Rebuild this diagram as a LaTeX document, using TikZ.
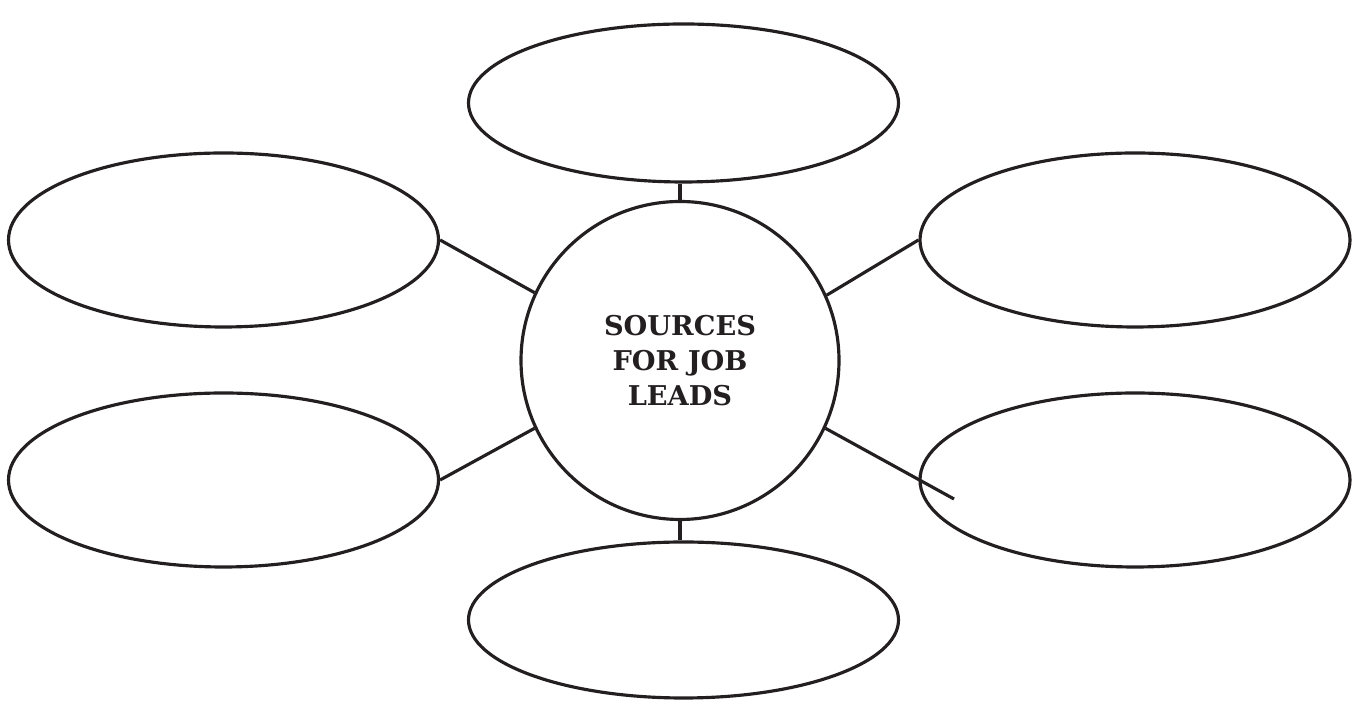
\documentclass[tikz,border=0pt]{standalone}
\usepackage{fontspec}
\newfontfamily\hubfont{DejaVu Serif}
\usetikzlibrary{shapes.geometric}
\usetikzlibrary{positioning}
\definecolor{ink}{HTML}{231F20}

\begin{document}
\begin{tikzpicture}[
    bubble/.style={draw=ink, ellipse, line width=1.8pt, inner sep=0pt, minimum width=8.6cm},
    hub/.style={draw=ink, circle, line width=1.8pt, inner sep=0pt, minimum size=6.36cm,
        align=center, text=ink, font=\hubfont\bfseries\fontsize{15.5}{20}\selectfont},
    link/.style={draw=ink, line width=1.8pt}
]
    \useasboundingbox (0,0) rectangle (27.08,14.24);
    \node[hub] (src) at (13.6,7.03) {SOURCES\\FOR JOB\\LEADS};
    \node[bubble, minimum height=3.16cm] (top) at (13.67,12.18) {};
    \node[bubble, minimum height=3.12cm] (bot) at (13.67,1.84) {};
    \node[bubble, minimum height=3.48cm] (lt) at (4.47,9.44) {};
    \node[bubble, minimum height=3.48cm] (lb) at (4.47,4.64) {};
    \node[bubble, minimum height=3.48cm] (rt) at (22.7,9.44) {};
    \node[bubble, minimum height=3.48cm] (rb) at (22.7,4.64) {};
    \coordinate (rbend) at (19.08,4.26);
    \draw[link] (src.north) -- (src.north |- top.south);
    \draw[link] (src.south) -- (src.south |- bot.north);
    \draw[link] (lt.east) -- (src.155);
    \draw[link] (lb.east) -- (src.205);
    \draw[link] (rt.west) -- (src.24);
    \draw[link] (src.-25) -- (rbend);
\end{tikzpicture}
\end{document}
